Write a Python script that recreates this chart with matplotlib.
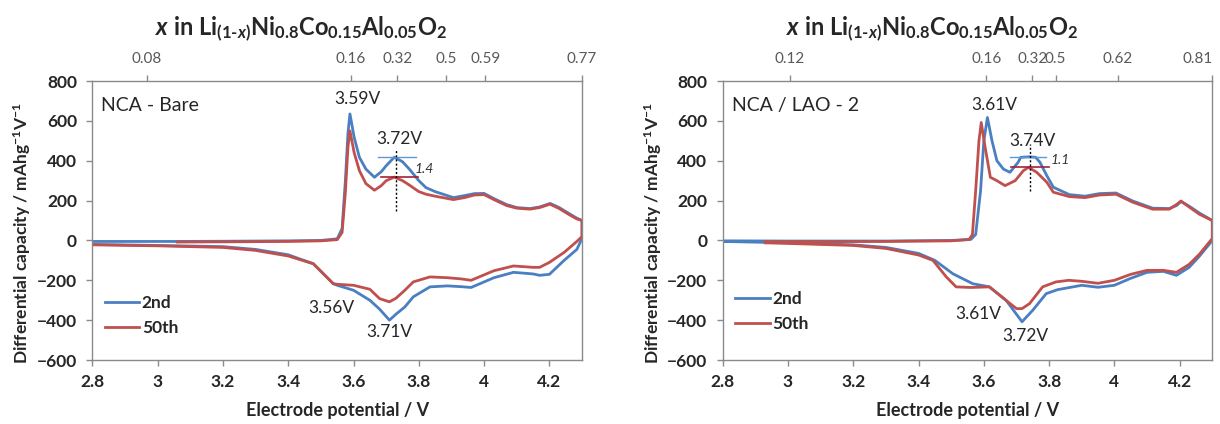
"""dQ/dV profiles of bare and LAO-coated NCA cathodes, 2nd vs 50th cycle."""

import matplotlib

matplotlib.use("Agg")
import matplotlib.pyplot as plt
import numpy as np

plt.rcParams["font.family"] = ["Lato", "DejaVu Sans"]
plt.rcParams["mathtext.fontset"] = "custom"
plt.rcParams["mathtext.rm"] = "Lato:bold"
plt.rcParams["mathtext.it"] = "Lato:bold:italic"
plt.rcParams["mathtext.bf"] = "Lato:bold"

nan = np.nan

# ---- NCA - Bare -------------------------------------------------------
bare_chg_v = [2.80, 3.00, 3.06, 3.20, 3.40, 3.50, 3.55, 3.565, 3.575, 3.583,
              3.589, 3.602, 3.618, 3.638, 3.664, 3.685, 3.70, 3.725, 3.75,
              3.771, 3.80, 3.822, 3.85, 3.906, 3.94, 3.97, 4.00, 4.03, 4.069,
              4.10, 4.14, 4.17, 4.202, 4.23, 4.26, 4.284, 4.30]
bare_chg_2nd = [-5, -5, -5, -4, -2, 0, 8, 60, 300, 540, 635, 517, 417, 358,
                317, 345, 375, 418, 395, 358, 300, 265, 245, 215, 225, 235,
                236, 210, 180, 165, 160, 168, 186, 165, 135, 112, 100]
bare_chg_50th = [nan, nan, -8, -7, -5, -2, 4, 40, 240, 470, 550, 440, 350,
                 285, 252, 275, 300, 318, 300, 278, 245, 232, 222, 205, 215,
                 228, 230, 205, 175, 162, 157, 165, 182, 160, 130, 108, 100]
bare_dis_v = [4.30, 4.284, 4.245, 4.20, 4.17, 4.15, 4.09, 4.03, 3.96, 3.93,
              3.888, 3.834, 3.783, 3.757, 3.73, 3.71, 3.68, 3.65, 3.60, 3.55,
              3.538, 3.477, 3.40, 3.30, 3.20, 3.00, 2.80]
bare_dis_2nd = [10, -45, -100, -170, -175, -168, -160, -187, -236, -232, -228,
                -233, -283, -334, -370, -400, -345, -300, -250, -225, -217,
                -117, -72, -45, -31, -25, -20]
bare_dis_50th = [20, -5, -60, -110, -135, -135, -128, -152, -200, -193, -187,
                 -183, -208, -250, -290, -308, -292, -245, -225, -220, -217,
                 -117, -78, -50, -35, -27, -22]

# ---- NCA / LAO - 2 ----------------------------------------------------
lao_chg_v_2nd = [2.80, 3.00, 3.30, 3.50, 3.56, 3.575, 3.59, 3.60, 3.611,
                 3.625, 3.64, 3.66, 3.68, 3.705, 3.713, 3.74, 3.759, 3.772,
                 3.793, 3.813, 3.862, 3.91, 3.954, 4.005, 4.056, 4.117, 4.168,
                 4.19, 4.204, 4.229, 4.26, 4.30]
lao_chg_2nd = [-2, -3, -3, 0, 5, 30, 250, 500, 617, 500, 400, 358, 342, 392,
               417, 420, 417, 392, 325, 267, 230, 222, 235, 238, 198, 162,
               160, 175, 195, 172, 138, 100]
lao_chg_v_50th = [2.93, 3.10, 3.30, 3.50, 3.555, 3.565, 3.575, 3.585, 3.592,
                  3.604, 3.62, 3.64, 3.665, 3.696, 3.721, 3.737, 3.762, 3.793,
                  3.813, 3.862, 3.91, 3.954, 4.005, 4.056, 4.117, 4.168, 4.19,
                  4.204, 4.229, 4.26, 4.30]
lao_chg_50th = [-6, -6, -5, -2, 5, 30, 250, 500, 592, 467, 317, 300, 275,
                300, 350, 367, 342, 292, 242, 220, 215, 228, 232, 192, 157,
                157, 180, 198, 168, 132, 100]
lao_dis_v_2nd = [4.30, 4.28, 4.26, 4.229, 4.19, 4.15, 4.10, 4.05, 4.00, 3.95,
                 3.90, 3.826, 3.791, 3.75, 3.717, 3.668, 3.617, 3.566, 3.505,
                 3.45, 3.40, 3.30, 3.20, 3.00, 2.80]
lao_dis_2nd = [0, -40, -80, -135, -175, -155, -160, -190, -225, -235, -225,
               -247, -267, -350, -408, -300, -233, -217, -167, -100, -65, -35,
               -22, -12, -5]
lao_dis_v_50th = [4.30, 4.28, 4.26, 4.229, 4.19, 4.15, 4.10, 4.05, 4.00, 3.95,
                  3.90, 3.86, 3.821, 3.78, 3.74, 3.717, 3.70, 3.66, 3.617,
                  3.56, 3.515, 3.485, 3.444, 3.40, 3.30, 3.20, 3.00, 2.93]
lao_dis_50th = [10, -30, -70, -120, -160, -150, -150, -170, -200, -215, -205,
                -200, -208, -233, -317, -342, -342, -290, -233, -236, -233,
                -183, -100, -73, -40, -25, -15, -12]

# secondary axis: Li content x at selected potentials
bare_x_pos = [2.967, 3.591, 3.734, 3.883, 4.004, 4.30]
bare_x_lbl = ["0.08", "0.16", "0.32", "0.5", "0.59", "0.77"]
lao_x_pos = [3.005, 3.608, 3.748, 3.820, 4.010, 4.30]
lao_x_lbl = ["0.12", "0.16", "0.32", "0.5", "0.62", "0.81"]

# peak labels: (V, dQ/dV, text)
bare_peaks = [(3.613, 708, "3.59V"), (3.74, 508, "3.72V"),
              (3.533, -338, "3.56V"), (3.71, -458, "3.71V")]
lao_peaks = [(3.633, 680, "3.61V"), (3.75, 500, "3.74V"),
             (3.582, -367, "3.61V"), (3.727, -480, "3.72V")]

# peak-height ratio markers: (x0, x1, y) for 2nd and 50th, dashed line, ratio
bare_ratio = dict(h2=(3.674, 3.791, 418), h50=(3.684, 3.796, 318),
                  vx=3.73, vy=(150, 458), txt=(3.818, 360, "1.4"))
lao_ratio = dict(h2=(3.679, 3.791, 420), h50=(3.684, 3.801, 370),
                 vx=3.74, vy=(250, 483), txt=(3.834, 402, "1.1"))

BLUE = "#4a7fc1"
RED = "#c0504d"
SPINE = "#8a8a8a"
INK = "#262626"
TITLE = (r"$\mathit{x}$ in Li$_{(1\text{-}\mathit{x})}$Ni$_{0.8}$"
         r"Co$_{0.15}$Al$_{0.05}$O$_{2}$")


def loop(vc, yc, vd, yd):
    return np.concatenate([vc, vd]), np.concatenate([yc, yd])


def draw_panel(ax, name, c2, c50, peaks, ratio, xpos, xlbl, leg_y,
               last_right=False):
    v2, y2 = loop(*c2)
    v50, y50 = loop(*c50)
    ax.plot(v2, y2, color=BLUE, lw=2.0, label="2nd", solid_joinstyle="round")
    ax.plot(v50, y50, color=RED, lw=2.0, label="50th", solid_joinstyle="round")

    x0, x1, yy = ratio["h2"]
    ax.plot([x0, x1], [yy, yy], color="#5b9bd5", lw=1.0)
    x0, x1, yy = ratio["h50"]
    ax.plot([x0, x1], [yy, yy], color="#a3213a", lw=1.2)
    ax.plot([ratio["vx"]] * 2, ratio["vy"], color="k", lw=1.0,
            ls=(0, (1.5, 1.5)))
    tx, ty, tt = ratio["txt"]
    ax.text(tx, ty, tt, fontsize=10, style="italic", color="#333333",
            ha="center", va="center")

    for v, y, t in peaks:
        ax.text(v, y, t, fontsize=12.5, color=INK, ha="center", va="center")

    ax.text(0.018, 0.912, name, transform=ax.transAxes, fontsize=14,
            color=INK, ha="left", va="center")

    ax.set_xlim(2.8, 4.3)
    ax.set_ylim(-600, 800)
    ax.set_xticks([2.8, 3.0, 3.2, 3.4, 3.6, 3.8, 4.0, 4.2])
    ax.set_xticklabels(["2.8", "3", "3.2", "3.4", "3.6", "3.8", "4", "4.2"])
    ax.set_yticks(np.arange(-600, 801, 200))
    for lab in ax.get_xticklabels() + ax.get_yticklabels():
        lab.set_fontweight("bold")
    ax.tick_params(axis="both", direction="out", length=4, width=1,
                   color=SPINE, labelsize=12.5, labelcolor=INK)
    ax.tick_params(axis="x", pad=6)
    ax.tick_params(axis="y", pad=7)
    for s in ax.spines.values():
        s.set_color(SPINE)
        s.set_linewidth(1.0)

    ax.set_xlabel("Electrode potential / V", fontsize=13, fontweight="bold",
                  color=INK, va="top")
    ax.xaxis.set_label_coords(0.5, -0.15)
    ax.set_ylabel(r"Differential capacity / mAhg$^{-1}$V$^{-1}$",
                  fontsize=12.5, fontweight="bold", color=INK, va="center")
    ax.yaxis.set_label_coords(-0.143, 0.455)

    leg = ax.legend(loc="upper left", bbox_to_anchor=(0.0, leg_y),
                    frameon=False, handlelength=2.0, handletextpad=0.15,
                    labelspacing=0.5, borderpad=0.2,
                    prop={"weight": "bold", "size": 12.5})
    for txt in leg.get_texts():
        txt.set_color(INK)

    top = ax.twiny()
    top.set_xlim(ax.get_xlim())
    top.set_xticks(xpos)
    top.set_xticklabels(xlbl)
    top.tick_params(axis="x", direction="out", length=4, width=1,
                    color=SPINE, labelsize=11, labelcolor="#595959", pad=7)
    if last_right:
        top.get_xticklabels()[-1].set_horizontalalignment("right")
    for s in top.spines.values():
        s.set_visible(False)

    ax.text(0.427, 1.165, TITLE, transform=ax.transAxes, fontsize=17,
            fontweight="bold", color=INK, ha="center", va="baseline")


fig = plt.figure(figsize=(12.2, 4.24), dpi=100)
ax_l = fig.add_axes([0.0757, 0.1509, 0.4014, 0.658])
ax_r = fig.add_axes([0.5924, 0.1509, 0.4013, 0.658])

draw_panel(ax_l, "NCA - Bare",
           (bare_chg_v, bare_chg_2nd, bare_dis_v, bare_dis_2nd),
           (bare_chg_v, bare_chg_50th, bare_dis_v, bare_dis_50th),
           bare_peaks, bare_ratio, bare_x_pos, bare_x_lbl, 0.275)
draw_panel(ax_r, "NCA / LAO - 2",
           (lao_chg_v_2nd, lao_chg_2nd, lao_dis_v_2nd, lao_dis_2nd),
           (lao_chg_v_50th, lao_chg_50th, lao_dis_v_50th, lao_dis_50th),
           lao_peaks, lao_ratio, lao_x_pos, lao_x_lbl, 0.29,
           last_right=True)

fig.savefig("out.png", dpi=100)
